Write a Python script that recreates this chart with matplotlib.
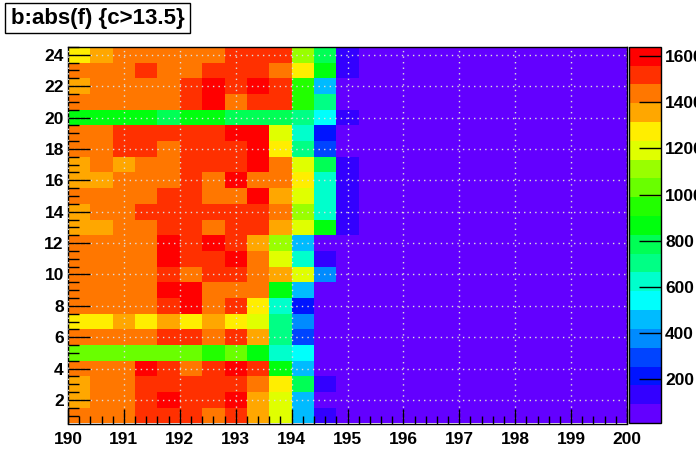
import colorsys
import numpy as np
import matplotlib.pyplot as plt
from matplotlib.colors import ListedColormap, BoundaryNorm
from matplotlib.patches import Rectangle

plt.rcParams['font.family'] = ['Liberation Sans', 'DejaVu Sans']
plt.rcParams['font.weight'] = 'bold'

title = "b:abs(f) {c>13.5}"

# bins: x 190..200 in 25 bins, y 1..24
x_edges = np.linspace(190, 200, 26)
y_edges = np.arange(0.5, 25.5, 1.0)

# counts per row (y = 1 .. 24), 25 x bins each
row01 = [1440, 1440, 1440, 1520, 1520, 1520, 1440, 1520, 1360, 1190, 460, 135, 50, 50, 50, 50, 50, 50, 50, 50, 50, 50, 50, 50, 50]
row02 = [1360, 1440, 1440, 1520, 1600, 1520, 1520, 1600, 1360, 1190, 460, 50, 50, 50, 50, 50, 50, 50, 50, 50, 50, 50, 50, 50, 50]
row03 = [1360, 1440, 1440, 1520, 1520, 1520, 1520, 1520, 1440, 1270, 785, 135, 50, 50, 50, 50, 50, 50, 50, 50, 50, 50, 50, 50, 50]
row04 = [1440, 1440, 1440, 1600, 1520, 1440, 1520, 1600, 1520, 870, 460, 50, 50, 50, 50, 50, 50, 50, 50, 50, 50, 50, 50, 50, 50]
row05 = [1030, 1030, 1030, 1030, 1030, 1030, 950, 1030, 870, 620, 540, 50, 50, 50, 50, 50, 50, 50, 50, 50, 50, 50, 50, 50, 50]
row06 = [1440, 1440, 1440, 1440, 1520, 1520, 1440, 1520, 1360, 700, 295, 50, 50, 50, 50, 50, 50, 50, 50, 50, 50, 50, 50, 50, 50]
row07 = [1270, 1270, 1360, 1270, 1360, 1270, 1360, 1270, 1190, 700, 380, 50, 50, 50, 50, 50, 50, 50, 50, 50, 50, 50, 50, 50, 50]
row08 = [1440, 1440, 1440, 1440, 1520, 1600, 1440, 1520, 1270, 620, 215, 50, 50, 50, 50, 50, 50, 50, 50, 50, 50, 50, 50, 50, 50]
row09 = [1440, 1440, 1440, 1440, 1600, 1600, 1440, 1440, 1440, 870, 460, 50, 50, 50, 50, 50, 50, 50, 50, 50, 50, 50, 50, 50, 50]
row10 = [1440, 1440, 1440, 1440, 1520, 1440, 1520, 1520, 1440, 1360, 1190, 380, 50, 50, 50, 50, 50, 50, 50, 50, 50, 50, 50, 50, 50]
row11 = [1440, 1440, 1440, 1440, 1600, 1520, 1520, 1600, 1440, 1190, 620, 135, 50, 50, 50, 50, 50, 50, 50, 50, 50, 50, 50, 50, 50]
row12 = [1440, 1440, 1440, 1440, 1600, 1520, 1600, 1520, 1360, 1110, 460, 50, 50, 50, 50, 50, 50, 50, 50, 50, 50, 50, 50, 50, 50]
row13 = [1360, 1360, 1440, 1440, 1520, 1520, 1440, 1520, 1520, 1360, 1190, 870, 135, 50, 50, 50, 50, 50, 50, 50, 50, 50, 50, 50, 50]
row14 = [1360, 1440, 1440, 1520, 1520, 1520, 1520, 1520, 1520, 1440, 1110, 620, 135, 50, 50, 50, 50, 50, 50, 50, 50, 50, 50, 50, 50]
row15 = [1440, 1440, 1440, 1440, 1520, 1520, 1440, 1440, 1600, 1360, 1190, 620, 135, 50, 50, 50, 50, 50, 50, 50, 50, 50, 50, 50, 50]
row16 = [1360, 1360, 1440, 1440, 1440, 1520, 1440, 1600, 1440, 1440, 1270, 620, 135, 50, 50, 50, 50, 50, 50, 50, 50, 50, 50, 50, 50]
row17 = [1360, 1440, 1360, 1440, 1440, 1520, 1520, 1520, 1600, 1440, 1190, 785, 135, 50, 50, 50, 50, 50, 50, 50, 50, 50, 50, 50, 50]
row18 = [1440, 1440, 1520, 1520, 1440, 1520, 1520, 1520, 1600, 1270, 700, 295, 50, 50, 50, 50, 50, 50, 50, 50, 50, 50, 50, 50, 50]
row19 = [1440, 1440, 1520, 1520, 1520, 1520, 1520, 1600, 1600, 1190, 620, 215, 50, 50, 50, 50, 50, 50, 50, 50, 50, 50, 50, 50, 50]
row20 = [870, 870, 870, 870, 785, 870, 870, 785, 785, 785, 700, 540, 135, 50, 50, 50, 50, 50, 50, 50, 50, 50, 50, 50, 50]
row21 = [1440, 1440, 1440, 1440, 1440, 1520, 1600, 1440, 1520, 1520, 950, 700, 50, 50, 50, 50, 50, 50, 50, 50, 50, 50, 50, 50, 50]
row22 = [1360, 1440, 1440, 1440, 1440, 1520, 1600, 1520, 1600, 1520, 950, 460, 50, 50, 50, 50, 50, 50, 50, 50, 50, 50, 50, 50, 50]
row23 = [1440, 1440, 1440, 1520, 1440, 1440, 1520, 1520, 1520, 1440, 1270, 870, 135, 50, 50, 50, 50, 50, 50, 50, 50, 50, 50, 50, 50]
row24 = [1270, 1360, 1440, 1440, 1440, 1440, 1440, 1520, 1520, 1520, 1110, 785, 135, 50, 50, 50, 50, 50, 50, 50, 50, 50, 50, 50, 50]

counts = np.array([row01, row02, row03, row04, row05, row06, row07, row08,
                   row09, row10, row11, row12, row13, row14, row15, row16,
                   row17, row18, row19, row20, row21, row22, row23, row24])

z_min, z_max = 11, 1640
n_levels = 20

# ROOT "pretty" palette (50 hues) picked for 20 contour levels
colors = []
for k in range(n_levels):
    i = int((k + 0.99) * 50 / n_levels)
    hue = 280 - (i + 1) * 280 / 50
    colors.append(colorsys.hls_to_rgb(hue / 360, 0.5, 1.0))
cmap = ListedColormap(colors)
norm = BoundaryNorm(np.linspace(z_min, z_max, n_levels + 1), n_levels)

fig = plt.figure(figsize=(6.96, 4.72), dpi=100)
W, H = 696, 472
ax = fig.add_axes([68 / W, (H - 423.5) / H, 559 / W, 376.6 / H])

mesh = ax.pcolormesh(x_edges, y_edges, counts, cmap=cmap, norm=norm)
ax.set_xlim(190, 200)
ax.set_ylim(0.5, 24.5)

ax.set_xticks(np.arange(190, 201, 1))
ax.set_xticks(np.arange(190, 200.01, 0.2), minor=True)
ax.set_yticks(np.arange(2, 25, 2))
ax.set_yticks(np.arange(1, 24.6, 0.5), minor=True)
ax.tick_params(axis='x', which='major', direction='in', length=11, width=1, labelsize=12.5, pad=6)
ax.tick_params(axis='x', which='minor', direction='in', length=5.5, width=1)
ax.tick_params(axis='y', which='major', direction='in', length=16, width=1, labelsize=12.5, pad=3)
ax.tick_params(axis='y', which='minor', direction='in', length=8, width=1)
ax.tick_params(top=False, right=False, which='both')
ax.grid(True, which='major', color='#dddddd', linestyle=(0, (1, 3)), linewidth=1)
ax.set_axisbelow(False)
for s in ax.spines.values():
    s.set_linewidth(1)

cax = fig.add_axes([629 / W, (H - 423) / H, 32 / W, 376.3 / H])
cb = fig.colorbar(mesh, cax=cax, ticks=np.arange(200, 1601, 200))
cb.outline.set_linewidth(1)
cax.tick_params(direction='in', length=16, width=1, labelsize=12.5, pad=3)
cax.minorticks_off()

# title box
fig.add_artist(Rectangle((5 / W, 1 - 33 / H), 185 / W, 30 / H, transform=fig.transFigure,
                         facecolor='white', edgecolor='black', linewidth=1))
fig.text(97.5 / W, 1 - 18.5 / H, title, fontsize=16, fontweight='bold', va='center', ha='center')

fig.savefig('out.png', dpi=100)
